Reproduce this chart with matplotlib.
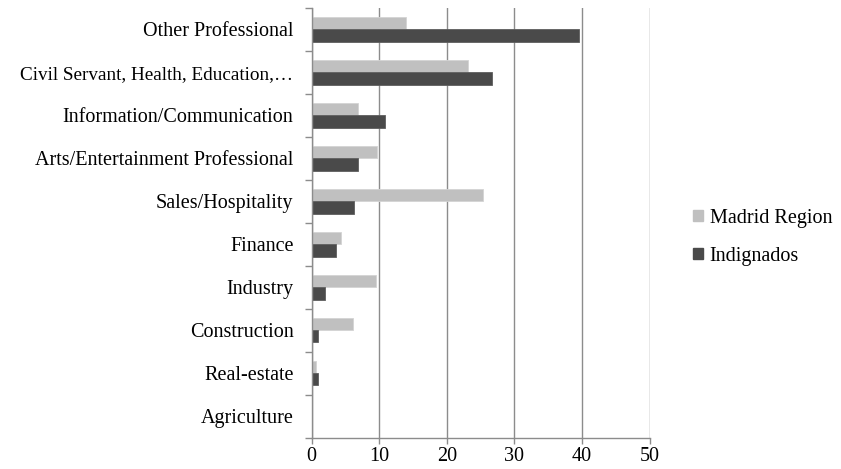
import matplotlib

matplotlib.use("Agg")
import matplotlib.pyplot as plt
import numpy as np
from matplotlib.patches import Patch

categories = [
    "Agriculture",
    "Real-estate",
    "Construction",
    "Industry",
    "Finance",
    "Sales/Hospitality",
    "Arts/Entertainment Professional",
    "Information/Communication",
    "Civil Servant, Health, Education,\u2026",
    "Other Professional",
]
madrid = [0.0, 0.6, 6.1, 9.6, 4.3, 25.4, 9.7, 6.9, 23.1, 14.0]
indignados = [0.0, 1.0, 1.0, 2.0, 3.6, 6.3, 6.9, 10.9, 26.7, 39.6]
x_ticks = [0, 10, 20, 30, 40, 50]

C_MAD, C_IND, C_GRID = "#c0c0c0", "#4a4a4a", "#8c8c8c"
FS = 14.5

plt.rcParams["font.family"] = ["Liberation Serif", "DejaVu Serif"]

fig = plt.figure(figsize=(8.41, 4.69), dpi=100)
ax = fig.add_axes([0.3704, 0.0668, 0.4021, 0.9162])

y = np.arange(len(categories))
h = 0.285
ax.barh(y + h / 2, madrid, height=h, color=C_MAD, edgecolor="#d4d4d4", lw=0.6, zorder=3)
ax.barh(y - h / 2, indignados, height=h, color=C_IND, edgecolor="#5e5e5e", lw=0.6, zorder=3)

ax.set_xlim(0, 50)
ax.set_ylim(-0.5, len(categories) - 0.5)
ax.set_xticks(x_ticks)
ax.set_yticks(y)
ax.set_yticklabels(categories)
ax.set_yticks(np.arange(len(categories) + 1) - 0.5, minor=True)
ax.tick_params(axis="y", which="major", length=0, pad=13, labelsize=FS)
ax.tick_params(axis="y", which="minor", length=5, width=1, color=C_GRID)
ax.tick_params(axis="x", length=4, width=1, color=C_GRID, labelsize=FS, pad=3)
# the long truncated label needs a touch less room
for lbl in ax.get_yticklabels():
    if lbl.get_text().startswith("Civil"):
        lbl.set_fontsize(13.8)

ax.grid(axis="x", color=C_GRID, lw=1, zorder=0)
for s in ("top", "right"):
    ax.spines[s].set_visible(False)
for s in ("left", "bottom"):
    ax.spines[s].set_color(C_GRID)
    ax.spines[s].set_linewidth(1)
ax.spines["left"].set_zorder(4)

handles = [Patch(color=C_MAD, label="Madrid Region"), Patch(color=C_IND, label="Indignados")]
fig.legend(
    handles=handles,
    loc="center left",
    bbox_to_anchor=(0.802, 0.494),
    frameon=False,
    fontsize=FS,
    handlelength=0.5,
    handleheight=0.5,
    handletextpad=0.35,
    labelspacing=0.95,
)

fig.savefig("out.png", dpi=100)
